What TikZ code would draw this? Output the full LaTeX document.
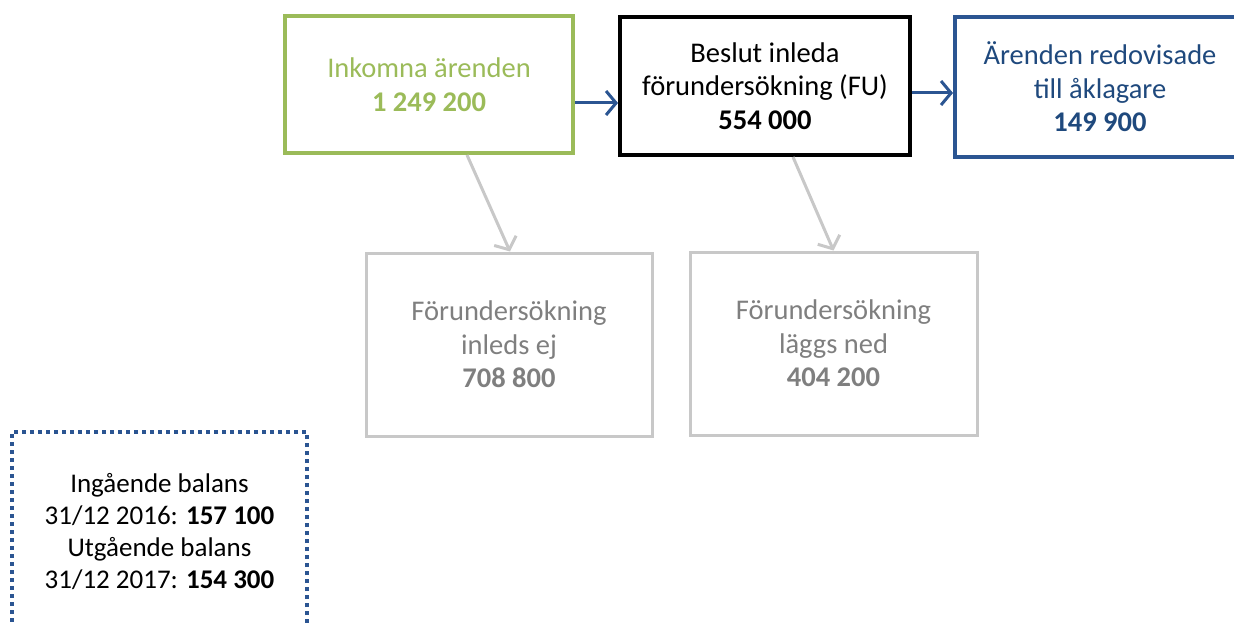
\documentclass[tikz,border=0pt]{standalone}
\usepackage{fontspec}
\setmainfont{Carlito}
\usetikzlibrary{arrows.meta}
\definecolor{ggreen}{HTML}{9BBB59}
\definecolor{dblue}{HTML}{2B5592}
\definecolor{tblue}{HTML}{1F497D}
\definecolor{lgray}{HTML}{C8C8C8}
\definecolor{tgray}{HTML}{7F7F7F}
\tikzset{
  box/.style={rectangle, line width=4pt, align=center, inner sep=0pt,
    font=\fontsize{28.5}{33.5}\selectfont},
  flow/.style={line width=3pt, -{Straight Barb[length=10pt,width=24pt,line width=3pt]}},
}
\begin{document}
\begin{tikzpicture}[x=1pt,y=-1pt]
\useasboundingbox (0,0) rectangle (1234,623);
\clip (0,0) rectangle (1234,623);
\node[box, draw=ggreen, text=ggreen, minimum width=288pt, minimum height=137pt] (g) at (429,84.5)
  {Inkomna ärenden\\\textbf{1 249 200}};
\node[box, draw=black, text=black, minimum width=290pt, minimum height=138pt] (b) at (765,86)
  {Beslut inleda\\förundersökning (FU)\\\textbf{554 000}};
\node[box, draw=dblue, text=tblue, minimum width=290pt, minimum height=140pt] (r) at (1100,87)
  {Ärenden redovisade\\till åklagare\\\textbf{149 900}};
\node[box, line width=3pt, draw=lgray, text=tgray, minimum width=286pt, minimum height=183pt] (n1) at (509,344.5)
  {Förundersökning\\inleds ej\\\textbf{708 800}};
\node[box, line width=3pt, draw=lgray, text=tgray, minimum width=287pt, minimum height=183pt] (n2) at (833.5,343.5)
  {Förundersökning\\läggs ned\\\textbf{404 200}};
\node[box, draw=dblue, dash pattern=on 4pt off 4pt, text=black, minimum width=295pt, minimum height=200pt,
  font=\fontsize{27}{32}\selectfont] (d) at (159.5,532)
  {Ingående balans\\31/12 2016: \textbf{157 100}\\Utgående balans\\31/12 2017: \textbf{154 300}};
\draw[flow, draw=dblue] ([yshift=-18.5pt]g.east) -- ([yshift=-17pt]b.west);
\draw[flow, draw=dblue] ([yshift=-7pt]b.east) -- ([yshift=-6pt]r.west);
\draw[flow, draw=lgray] ([xshift=38pt]g.south) -- ([xshift=1pt]n1.north);
\draw[flow, draw=lgray] ([xshift=28pt]b.south) -- (n2.north);
\end{tikzpicture}
\end{document}
